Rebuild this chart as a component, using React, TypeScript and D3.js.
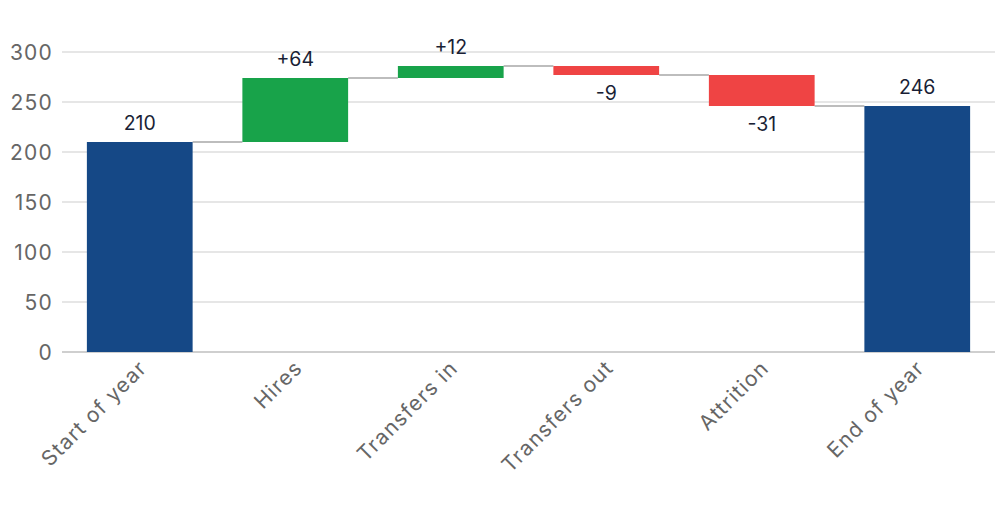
import * as d3 from 'd3'

const categories = ['Start of year', 'Hires', 'Transfers in', 'Transfers out', 'Attrition', 'End of year']
const changes = [210, 64, 12, -9, -31, 246]
const kinds = ['total', 'delta', 'delta', 'delta', 'delta', 'total']
const yTicks = [0, 50, 100, 150, 200, 250, 300]

const width = 1000
const height = 516
const marginLeft = 62
const marginRight = 5

export default function App() {
  // running totals for each step
  let run = 0
  const steps = categories.map((c, i) => {
    let start = 0
    let end = 0
    if (kinds[i] === 'total') {
      start = 0
      end = changes[i]
      run = changes[i]
    } else {
      start = run
      end = run + changes[i]
      run = end
    }
    return { c, start, end, v: changes[i], kind: kinds[i] }
  })

  const x = d3
    .scaleBand()
    .domain(categories)
    .range([marginLeft, width - marginRight])
    .paddingInner(0.32)
    .paddingOuter(0.16)
  const y = d3.scaleLinear().domain([0, 300]).range([352, 52])

  const color = (d) => (d.kind === 'total' ? '#154886' : d.v >= 0 ? '#18a34a' : '#ef4444')
  const label = (d) => (d.kind === 'total' ? `${d.v}` : d.v > 0 ? `+${d.v}` : `${d.v}`)

  return (
    <svg width={width} height={height} style={{ position: 'absolute', left: 0, top: 0 }} fontFamily="Inter, 'Liberation Sans', Arial, sans-serif">
      <g>
        {yTicks.map((t) => (
          <g key={t}>
            {t > 0 && (
              <line x1={marginLeft} x2={width - marginRight} y1={y(t)} y2={y(t)} stroke="#e6e6e6" strokeWidth={2} />
            )}
            <text x={53} y={y(t)} dy="0.36em" textAnchor="end" fontSize={21} letterSpacing={1.2} fill="#666">
              {t}
            </text>
          </g>
        ))}
        <line x1={marginLeft} x2={width - marginRight} y1={y(0)} y2={y(0)} stroke="#cfcfcf" strokeWidth={2} />
      </g>
      <g>
        {steps.slice(0, -1).map((d, i) => (
          <line
            key={i}
            x1={x(d.c) + x.bandwidth()}
            x2={x(categories[i + 1])}
            y1={y(d.end)}
            y2={y(d.end)}
            stroke="#bdbdbd"
            strokeWidth={2}
          />
        ))}
      </g>
      <g>
        {steps.map((d) => (
          <rect
            key={d.c}
            x={x(d.c)}
            width={x.bandwidth()}
            y={y(Math.max(d.start, d.end))}
            height={Math.abs(y(d.start) - y(d.end))}
            fill={color(d)}
          />
        ))}
      </g>
      <g>
        {steps.map((d) => {
          const neg = d.v < 0
          const yy = neg ? y(Math.min(d.start, d.end)) + 25 : y(Math.max(d.start, d.end)) - 12
          return (
            <text key={d.c} x={x(d.c) + x.bandwidth() / 2} y={yy} textAnchor="middle" fontSize={19.5} fill="#1a1f36">
              {label(d)}
            </text>
          )
        })}
      </g>
      <g>
        {categories.map((c) => {
          const cx = x(c) + x.bandwidth() / 2
          return (
            <text
              key={c}
              transform={`translate(${cx + 3},${y(0) + 12}) rotate(-45)`}
              textAnchor="end"
              dy="0.36em"
              fontSize={21}
              letterSpacing={1.2}
              fill="#666"
            >
              {c}
            </text>
          )
        })}
      </g>
    </svg>
  )
}
